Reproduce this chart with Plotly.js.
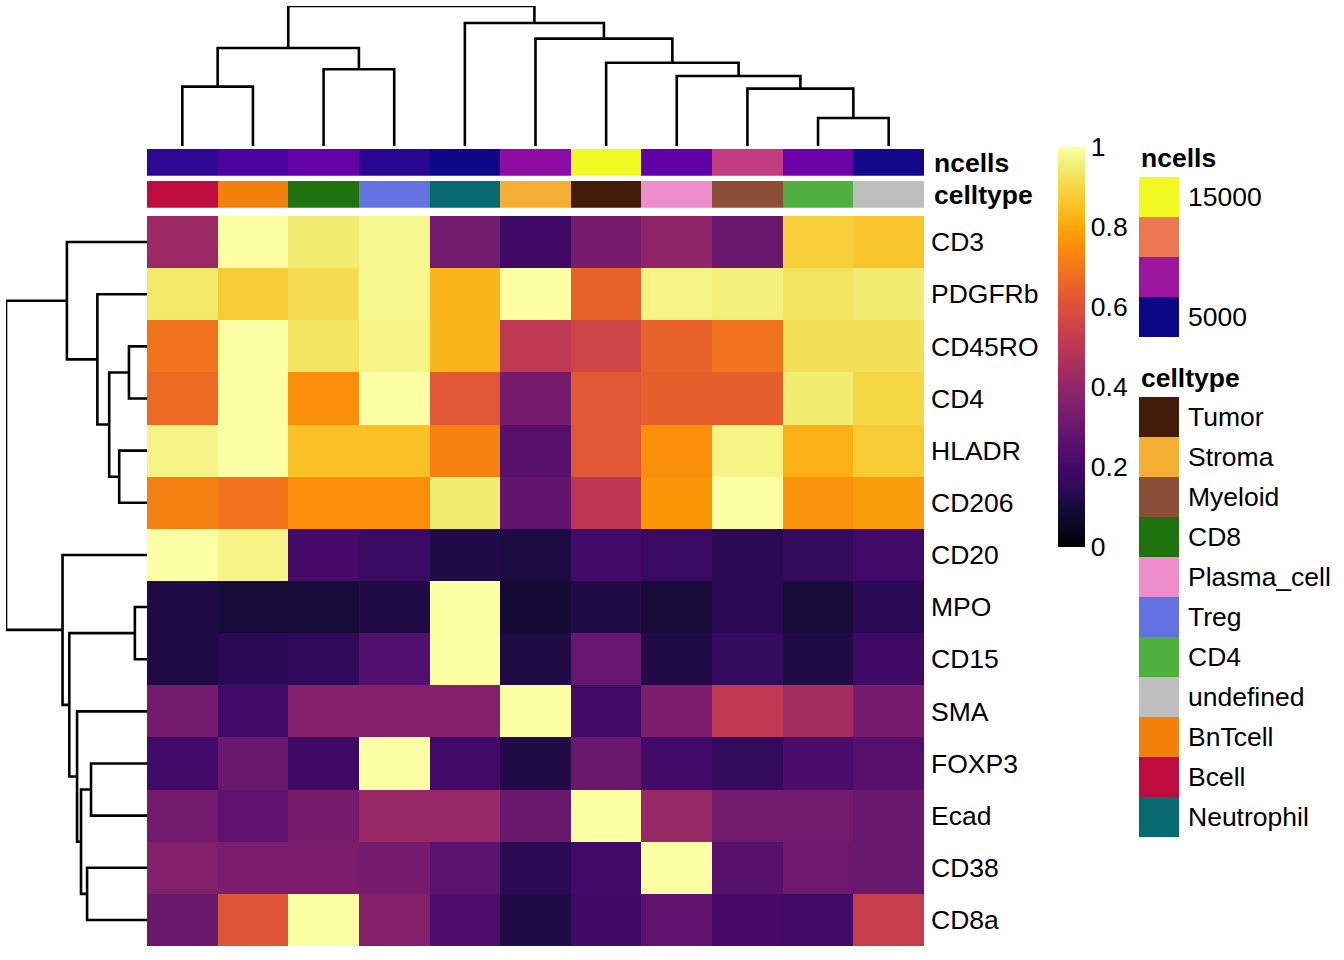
<!DOCTYPE html>
<html><head><meta charset="utf-8">
<script src="https://cdn.plot.ly/plotly-3.0.1.min.js"></script>
<style>html,body{margin:0;padding:0;background:#fff}</style>
</head><body><div id="chart" style="width:1344px;height:960px"></div>
<script>
// ---- data ----
const columns = ['Bcell','BnTcell','CD8','Treg','Neutrophil','Stroma','Tumor','Plasma_cell','Myeloid','CD4','undefined'];
const markers = ['CD3','PDGFRb','CD45RO','CD4','HLADR','CD206','CD20','MPO','CD15','SMA','FOXP3','Ecad','CD38','CD8a'];

const CD3    = [0.42,1.00,0.95,0.98,0.32,0.19,0.33,0.39,0.30,0.88,0.86];
const PDGFRb = [0.94,0.87,0.91,0.98,0.83,1.00,0.65,0.97,0.96,0.93,0.95];
const CD45RO = [0.69,1.00,0.93,0.97,0.83,0.51,0.56,0.65,0.69,0.92,0.92];
const CD4m   = [0.67,1.00,0.75,1.00,0.62,0.33,0.62,0.64,0.64,0.95,0.90];
const HLADR  = [0.97,1.00,0.85,0.85,0.72,0.25,0.62,0.75,0.97,0.82,0.87];
const CD206  = [0.72,0.69,0.75,0.75,0.95,0.28,0.50,0.77,1.00,0.76,0.78];
const CD20   = [1.00,0.97,0.21,0.18,0.12,0.11,0.20,0.18,0.14,0.16,0.20];
const MPO    = [0.12,0.10,0.10,0.12,1.00,0.09,0.12,0.10,0.14,0.10,0.14];
const CD15   = [0.12,0.14,0.15,0.24,1.00,0.12,0.29,0.12,0.16,0.12,0.19];
const SMA    = [0.32,0.20,0.36,0.36,0.36,1.00,0.20,0.34,0.51,0.44,0.33];
const FOXP3  = [0.20,0.30,0.19,1.00,0.20,0.12,0.30,0.20,0.16,0.22,0.25];
const Ecad   = [0.32,0.27,0.33,0.41,0.41,0.30,1.00,0.41,0.32,0.32,0.30];
const CD38   = [0.36,0.34,0.34,0.33,0.26,0.14,0.20,1.00,0.25,0.31,0.30];
const CD8a   = [0.30,0.61,1.00,0.36,0.23,0.12,0.19,0.27,0.21,0.20,0.53];

const ncells = [5200,5900,6600,5100,4500,7900,16000,6500,9800,6900,4600];
const ncellsRange = [4500,16000];
const ncellsLegendLabels = ['15000','','','5000'];

const celltypeLegend = ['Tumor','Stroma','Myeloid','CD8','Plasma_cell','Treg','CD4','undefined','BnTcell','Bcell','Neutrophil'];
const celltypeColors = {Tumor:'#421c06',Stroma:'#f4ae33',Myeloid:'#8b4f38',CD8:'#1e730e',Plasma_cell:'#ee8dcb',
  Treg:'#6473e2',CD4:'#4fb13d',undefined:'#bebebe',BnTcell:'#f4800c',Bcell:'#be0c3e',Neutrophil:'#076a70'};

// hclust-style linkage (negative = leaf, 1-based in display order; positive = earlier merge)
const colMerge  = [[-10,-11],[-9,1],[-1,-2],[-8,2],[-3,-4],[-7,4],[3,5],[-6,6],[-5,8],[7,9]];
const colHeight = [0.200,0.410,0.424,0.500,0.548,0.595,0.700,0.767,0.879,1.0];
const rowMerge  = [[-8,-9],[-3,-4],[-5,-6],[2,3],[-2,4],[-11,-12],[-13,-14],[6,7],[-10,8],[1,9],[-1,5],[-7,10],[11,12]];
const rowHeight = [0.086,0.128,0.197,0.268,0.352,0.397,0.425,0.468,0.496,0.551,0.568,0.599,1.0];

const cbTicks = [0,0.2,0.4,0.6,0.8,1];
const cbTickText = ['0','0.2','0.4','0.6','0.8','1'];

// ---- styles ----
const inferno = [[0,'#000004'],[0.05,'#0a0722'],[0.1,'#160b39'],[0.15,'#2f0a5b'],[0.2,'#420a68'],[0.25,'#57106e'],
  [0.3,'#6a176e'],[0.35,'#7f1f6c'],[0.4,'#932667'],[0.45,'#a82e5f'],[0.5,'#bc3754'],[0.55,'#cc4248'],
  [0.6,'#dd513a'],[0.65,'#e9612a'],[0.7,'#f37819'],[0.75,'#f98e09'],[0.8,'#fca50a'],[0.85,'#fac127'],
  [0.9,'#f6d746'],[0.95,'#f1ed71'],[1,'#fcffa4']];
const plasma = [[0,'#0d0887'],[0.1,'#41049d'],[0.2,'#6a00a8'],[0.3,'#8f0da4'],[0.4,'#b12a90'],[0.5,'#cc4778'],
  [0.6,'#e16462'],[0.7,'#f2844b'],[0.8,'#fca636'],[0.9,'#fcce25'],[1,'#f0f921']];
const ncellsLegendColors = ['#f0f921','#ec7853','#9c179e','#0d0887'];
const FONT = 'Liberation Sans, Arial, sans-serif';
const FS = 26.5;
const W = 1344, H = 960;
const px = v => v / W, py = v => 1 - v / H;

const rowsByName = {CD3, PDGFRb, CD45RO, CD4: CD4m, HLADR, CD206, CD20, MPO, CD15, SMA, FOXP3, Ecad, CD38, CD8a};
const z = markers.map(m => rowsByName[m]);
const colIdx = columns.map((_, i) => i);
const rowIdx = markers.map((_, i) => i);

function dendro(merge, height) {
  const pos = [], hh = [], P = [], Hs = [];
  const node = id => id < 0 ? [-id - 1, 0] : [pos[id - 1], hh[id - 1]];
  merge.forEach((m, i) => {
    const [pa, ha] = node(m[0]); const [pb, hb] = node(m[1]); const h = height[i];
    P.push(pa, pa, pb, pb, null); Hs.push(ha, h, h, hb, null);
    pos.push((pa + pb) / 2); hh.push(h);
  });
  return {p: P, h: Hs};
}
const cd = dendro(colMerge, colHeight);
const rd = dendro(rowMerge, rowHeight);

const traces = [
  {type:'heatmap', x: colIdx, y: rowIdx, z: z, xaxis:'x', yaxis:'y', zmin:0, zmax:1, colorscale: inferno,
   hoverinfo:'skip', showscale:true,
   colorbar:{x: px(1058), xanchor:'left', y: py(347), yanchor:'middle',
     len:400, lenmode:'pixels', thickness:27, thicknessmode:'pixels', xpad:0, ypad:0, outlinewidth:0,
     tickvals: cbTicks, ticktext: cbTickText, ticks:'', ticklabelstandoff: 6,
     tickfont:{family:FONT, size:FS, color:'#000'}}},
  {type:'bar', x: colIdx, y: columns.map(() => 1), width: 1, xaxis:'x', yaxis:'y2', hoverinfo:'skip',
   marker:{color: ncells, colorscale: plasma, cmin: ncellsRange[0], cmax: ncellsRange[1], line:{width:0}}},
  {type:'bar', x: colIdx, y: columns.map(() => 1), width: 1, xaxis:'x', yaxis:'y3', hoverinfo:'skip',
   marker:{color: columns.map(c => celltypeColors[c]), line:{width:0}}},
  {type:'scatter', mode:'lines', x: cd.p, y: cd.h, xaxis:'x', yaxis:'y4', hoverinfo:'skip',
   line:{color:'#000', width:2.6}, connectgaps:false},
  {type:'scatter', mode:'lines', x: rd.h, y: rd.p, xaxis:'x2', yaxis:'y', hoverinfo:'skip',
   line:{color:'#000', width:2.6}, connectgaps:false}
];

const hidden = {showgrid:false, zeroline:false, showline:false, showticklabels:false, ticks:'', automargin:false};
const shapes = [], annotations = [];

annotations.push({xref:'paper', yref:'paper', x: px(932), y: py(163), xanchor:'left', yanchor:'middle',
  text:'<b>ncells</b>', showarrow:false, font:{family:FONT, size:FS, color:'#000'}});
annotations.push({xref:'paper', yref:'paper', x: px(932), y: py(195), xanchor:'left', yanchor:'middle',
  text:'<b>celltype</b>', showarrow:false, font:{family:FONT, size:FS, color:'#000'}});

// ncells legend
annotations.push({xref:'paper', yref:'paper', x: px(1139), y: py(158), xanchor:'left', yanchor:'middle',
  text:'<b>ncells</b>', showarrow:false, font:{family:FONT, size:FS, color:'#000'}});
ncellsLegendColors.forEach((c, i) => {
  const y0 = 177 + 40 * i;
  shapes.push({type:'rect', xref:'paper', yref:'paper', x0: px(1139), x1: px(1179), y0: py(y0), y1: py(y0 + 40),
    fillcolor: c, line:{width:0}});
  if (ncellsLegendLabels[i]) annotations.push({xref:'paper', yref:'paper', x: px(1186), y: py(y0 + 20), xanchor:'left',
    yanchor:'middle', text: ncellsLegendLabels[i], showarrow:false, font:{family:FONT, size:FS, color:'#000'}});
});
// celltype legend
annotations.push({xref:'paper', yref:'paper', x: px(1139), y: py(378), xanchor:'left', yanchor:'middle',
  text:'<b>celltype</b>', showarrow:false, font:{family:FONT, size:FS, color:'#000'}});
celltypeLegend.forEach((name, i) => {
  const y0 = 397 + 40 * i;
  shapes.push({type:'rect', xref:'paper', yref:'paper', x0: px(1139), x1: px(1179), y0: py(y0), y1: py(y0 + 40),
    fillcolor: celltypeColors[name], line:{width:0}});
  annotations.push({xref:'paper', yref:'paper', x: px(1186), y: py(y0 + 20), xanchor:'left', yanchor:'middle',
    text: name, showarrow:false, font:{family:FONT, size:FS, color:'#000'}});
});

const layout = {
  width: W, height: H, margin:{l:0, r:0, t:0, b:0, autoexpand:false}, paper_bgcolor:'#fff', plot_bgcolor:'rgba(0,0,0,0)',
  showlegend:false, bargap:0, barmode:'overlay',
  xaxis: Object.assign({domain:[px(147), px(924)], range:[-0.5, 10.5], anchor:'y'}, hidden),
  yaxis: {domain:[py(946), py(216)], range:[13.5, -0.5], anchor:'x', side:'right', tickvals: rowIdx, ticktext: markers,
    ticks:'', showgrid:false, zeroline:false, showline:false, ticklabelstandoff: 6, automargin:false,
    tickfont:{family:FONT, size:FS, color:'#000'}},
  xaxis2: Object.assign({domain:[px(6), px(147)], range:[1.0, 0], anchor:'y'}, hidden),
  yaxis2: Object.assign({domain:[py(175.7), py(149)], range:[0, 1], anchor:'x'}, hidden),
  yaxis3: Object.assign({domain:[py(207.7), py(181)], range:[0, 1], anchor:'x'}, hidden),
  yaxis4: Object.assign({domain:[py(146), py(6)], range:[0, 1.0], anchor:'x'}, hidden),
  shapes, annotations
};

Plotly.newPlot('chart', traces, layout, {staticPlot:true, displayModeBar:false});
</script></body></html>
